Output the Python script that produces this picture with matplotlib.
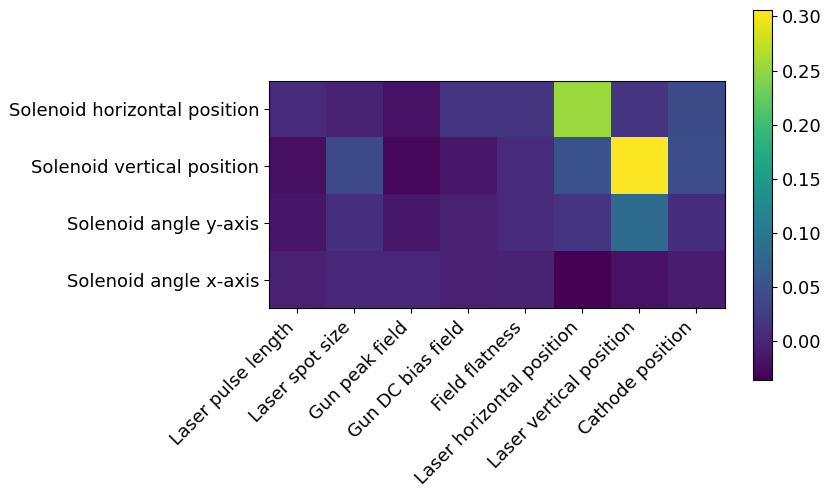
import numpy as np
import matplotlib
matplotlib.use('Agg')
import matplotlib.pyplot as plt

inputs = ['Laser pulse length', 'Laser spot size', 'Gun peak field', 'Gun DC bias field',
          'Field flatness', 'Laser horizontal position', 'Laser vertical position', 'Cathode position']
outputs = ['Solenoid horizontal position', 'Solenoid vertical position',
           'Solenoid angle y-axis', 'Solenoid angle x-axis']

# one row per output, one column per input
row_hpos = [0.005, -0.002, -0.019, 0.015, 0.015, 0.255, 0.015, 0.043]
row_vpos = [-0.022, 0.040, -0.029, -0.012, 0.005, 0.050, 0.306, 0.046]
row_angy = [-0.015, 0.012, -0.014, -0.005, 0.005, 0.015, 0.084, 0.009]
row_angx = [-0.004, 0.003, 0.002, -0.005, -0.003, -0.036, -0.019, -0.010]

sens = np.array([row_hpos, row_vpos, row_angy, row_angx])

fig = plt.figure(figsize=(8.3, 4.96), dpi=100)
ax = fig.add_axes([0.324, 0.377, 0.549, 0.462])
im = ax.imshow(sens, cmap='viridis')
ax.set_xticks(range(len(inputs)))
ax.set_xticklabels(inputs, rotation=45, ha='right', fontsize=13)
ax.set_yticks(range(len(outputs)))
ax.set_yticklabels(outputs, fontsize=13)

cax = fig.add_axes([0.907, 0.234, 0.023, 0.746])
cb = fig.colorbar(im, cax=cax)
cb.ax.tick_params(labelsize=13)

plt.savefig('out.png')
